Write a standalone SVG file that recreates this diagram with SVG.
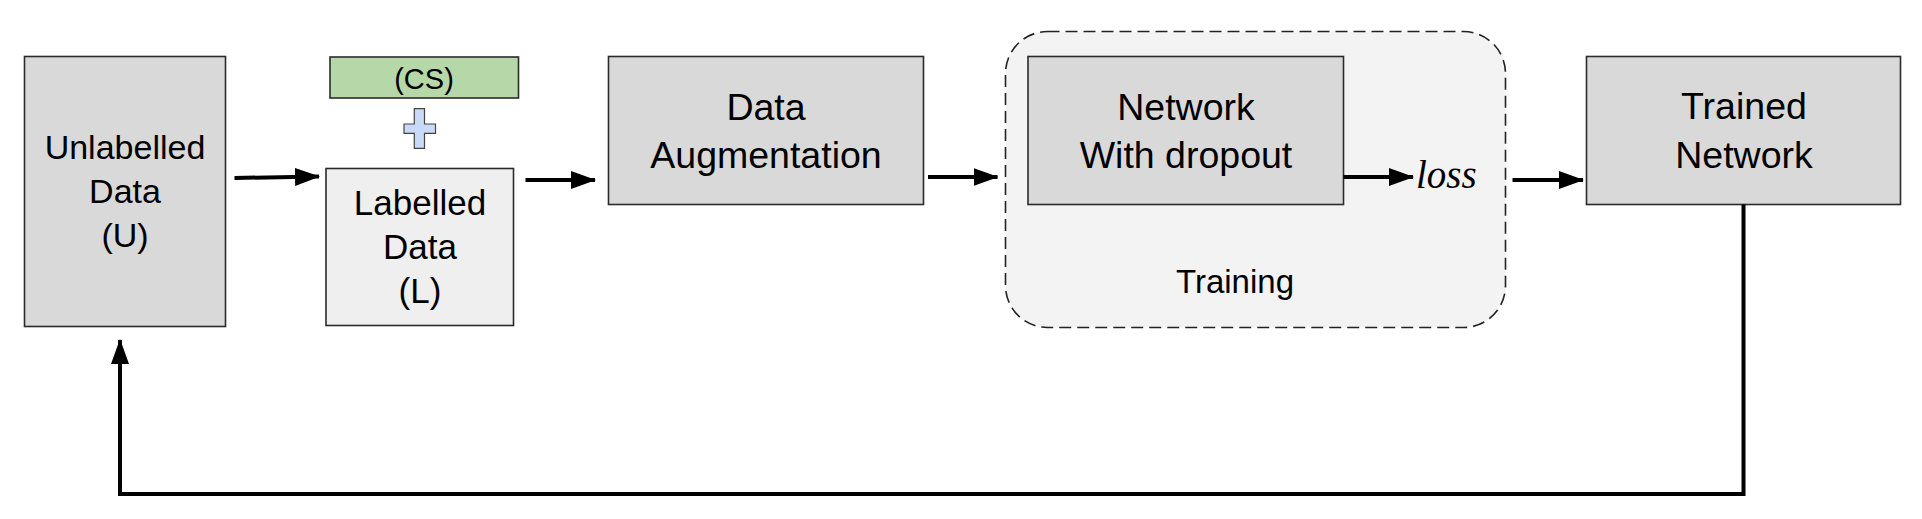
<svg xmlns="http://www.w3.org/2000/svg" width="1922" height="519" viewBox="0 0 1922 519">
<style>
.box{stroke:#2b2b2b;stroke-width:1.6}
.dark{fill:#d9d9d9}
.light{fill:#efefef}
.t{font-family:"Liberation Sans",Arial,sans-serif;fill:#000;text-anchor:middle}
.conn{stroke:#000;stroke-width:4;fill:none}
</style>
<defs>
<marker id="ah" markerUnits="userSpaceOnUse" viewBox="0 0 25 18" refX="24" refY="9" markerWidth="25" markerHeight="18" orient="auto">
<path d="M0,0 L25,9 L0,18 z" fill="#000"/>
</marker>
</defs>
<rect width="1922" height="519" fill="#fff"/>
<g id="training">
<rect x="1005.5" y="31.5" width="500" height="296" rx="42" ry="42" fill="#f3f3f3" stroke="#222" stroke-width="1.6" stroke-dasharray="12 6"/>
<text class="t" x="1235" y="292.5" font-size="33">Training</text>
</g>
<g id="unlabelled">
<rect class="box dark" x="24.5" y="56.5" width="201" height="270"/>
<text class="t" font-size="34"><tspan x="125" y="158.5">Unlabelled</tspan><tspan x="125" y="202.5">Data</tspan><tspan x="125" y="246.5">(U)</tspan></text>
</g>
<g id="cs">
<rect class="box" x="330" y="57" width="188.5" height="41" fill="#b6d7a8"/>
<text class="t" x="424" y="88.5" font-size="29">(CS)</text>
</g>
<g id="plus">
<path d="M414.3,108.6 H424.5 V124 H435.5 V133.4 H424.5 V148.3 H414.3 V133.4 H404 V124 H414.3 Z" fill="#c9daf8" stroke="#444" stroke-width="1.2"/>
</g>
<g id="labelled">
<rect class="box light" x="326" y="168.5" width="187.5" height="157"/>
<text class="t" font-size="35"><tspan x="420" y="214.5">Labelled</tspan><tspan x="420" y="258.5">Data</tspan><tspan x="420" y="302.5">(L)</tspan></text>
</g>
<g id="augmentation">
<rect class="box dark" x="608.5" y="56.5" width="315" height="148"/>
<text class="t" font-size="37.5"><tspan x="766" y="119.5">Data</tspan><tspan x="766" y="168">Augmentation</tspan></text>
</g>
<g id="network">
<rect class="box dark" x="1028" y="56.5" width="315.5" height="148"/>
<text class="t" font-size="37.5"><tspan x="1186" y="119.5">Network</tspan><tspan x="1186" y="168">With dropout</tspan></text>
</g>
<g id="loss">
<text x="1416" y="188" font-family="'Liberation Serif','Times New Roman',serif" font-style="italic" font-size="39" fill="#000">loss</text>
</g>
<g id="trained">
<rect class="box dark" x="1586.5" y="56.5" width="314" height="148"/>
<text class="t" font-size="37.5"><tspan x="1744" y="119">Trained</tspan><tspan x="1744" y="168">Network</tspan></text>
</g>
<g id="connectors">
<line class="conn" x1="234.5" y1="178" x2="319" y2="176.5" marker-end="url(#ah)"/>
<line class="conn" x1="525.5" y1="180" x2="595" y2="180" marker-end="url(#ah)"/>
<line class="conn" x1="928" y1="177" x2="997.5" y2="177" marker-end="url(#ah)"/>
<line class="conn" x1="1343.5" y1="177" x2="1413" y2="177" marker-end="url(#ah)"/>
<line class="conn" x1="1512.5" y1="180" x2="1583" y2="180" marker-end="url(#ah)"/>
<polyline class="conn" points="1743.5,204.5 1743.5,494 120,494 120,340" marker-end="url(#ah)"/>
</g>
</svg>
